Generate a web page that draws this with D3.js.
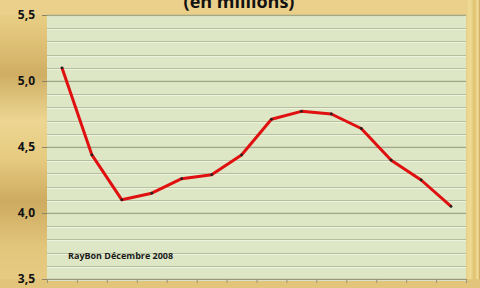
<!DOCTYPE html>
<html>
<head>
<meta charset="utf-8">
<script src="https://cdn.jsdelivr.net/npm/d3@7"></script>
<style>
  html, body { margin: 0; padding: 0; }
  body { width: 480px; height: 288px; overflow: hidden; }
  svg { display: block; }
</style>
</head>
<body>
<svg width="480" height="288"></svg>
<script>
const values = [5.10, 4.44, 4.10, 4.15, 4.26, 4.29, 4.44, 4.71, 4.77, 4.75, 4.64, 4.40, 4.25, 4.05];
const yTicks = [3.5, 4.0, 4.5, 5.0, 5.5];
const yTickLabels = ['3,5', '4,0', '4,5', '5,0', '5,5'];
const minorTicks = d3.range(35, 56).map(d => d / 10);
const titleText = '(en millions)';
const noteText = 'RayBon Décembre 2008';

const W = 480, H = 288;
const plot = { left: 47, right: 466, top: 15, bottom: 279 };

const svg = d3.select('svg');
const defs = svg.append('defs');

// golden background, banded vertically
const bg = defs.append('linearGradient').attr('id', 'bg')
  .attr('x1', 0).attr('y1', 0).attr('x2', 0).attr('y2', 1);
[[0, '#ecd48c'], [0.12, '#e2c57a'], [0.26, '#cfae64'], [0.42, '#edd692'],
 [0.55, '#e6cb80'], [0.7, '#cdab60'], [0.86, '#e2c67c'], [1, '#e8cc84']]
  .forEach(([o, c]) => bg.append('stop').attr('offset', o).attr('stop-color', c));

const rightBg = defs.append('linearGradient').attr('id', 'rbg')
  .attr('x1', 0).attr('y1', 0).attr('x2', 1).attr('y2', 0);
[[0, '#e8cf86'], [0.3, '#f0dc98'], [0.6, '#e0c270'], [0.85, '#f2de9c'], [1, '#c9a65a']]
  .forEach(([o, c]) => rightBg.append('stop').attr('offset', o).attr('stop-color', c));

svg.append('rect').attr('width', W).attr('height', H).attr('fill', 'url(#bg)');
svg.append('rect').attr('x', 0).attr('y', 0).attr('width', W).attr('height', plot.top)
  .attr('fill', '#ead08a');
svg.append('rect').attr('x', plot.right).attr('y', 0).attr('width', W - plot.right).attr('height', H)
  .attr('fill', 'url(#rbg)');
svg.append('rect').attr('x', 0).attr('y', plot.bottom).attr('width', W).attr('height', H - plot.bottom)
  .attr('fill', '#e2c47a');

const x = d3.scaleLinear().domain([0, values.length]).range([plot.left, plot.right]);
const y = d3.scaleLinear().domain([3.5, 5.5]).range([plot.bottom, plot.top]);

// plot area
svg.append('rect')
  .attr('x', plot.left).attr('y', plot.top)
  .attr('width', plot.right - plot.left).attr('height', plot.bottom - plot.top)
  .attr('fill', '#dde7c5');

// gridlines with a soft highlight under each one
const grid = svg.append('g');
grid.selectAll('line.hl')
  .data(minorTicks)
  .join('line')
  .attr('class', 'hl')
  .attr('x1', plot.left).attr('x2', plot.right)
  .attr('y1', d => Math.round(y(d)) + 1.5).attr('y2', d => Math.round(y(d)) + 1.5)
  .attr('stroke', '#eef3de').attr('stroke-width', 1);
grid.selectAll('line.gl')
  .data(minorTicks)
  .join('line')
  .attr('class', 'gl')
  .attr('x1', plot.left).attr('x2', plot.right)
  .attr('y1', d => Math.round(y(d)) + 0.5).attr('y2', d => Math.round(y(d)) + 0.5)
  .attr('stroke', d => (Math.round(d * 10) % 5 === 0 ? '#a2a886' : '#b5bf9d'))
  .attr('stroke-width', d => (Math.round(d * 10) % 5 === 0 ? 1.5 : 1));

// y axis labels
const yAxis = svg.append('g')
  .attr('transform', `translate(${plot.left},0)`)
  .call(d3.axisLeft(y).tickValues(yTicks)
    .tickSize(5)
    .tickFormat((d, i) => yTickLabels[i]));
yAxis.select('.domain').remove();
yAxis.selectAll('.tick line').attr('stroke', '#8c8468');
yAxis.selectAll('.tick text')
  .attr('x', -12)
  .attr('font-family', 'Open Sans, Liberation Sans, sans-serif')
  .attr('font-weight', 'bold')
  .attr('font-size', 12)
  .attr('fill', '#111');

// x axis: tick marks only
const xAxis = svg.append('g')
  .attr('transform', `translate(0,${plot.bottom})`)
  .call(d3.axisBottom(x).tickValues(d3.range(values.length + 1)).tickSize(4).tickFormat(''));
xAxis.select('.domain').attr('stroke', '#9c9478').attr('stroke-width', 1);
xAxis.selectAll('.tick line').attr('stroke', '#9c9478');

// line
const line = d3.line()
  .x((d, i) => x(i + 0.5))
  .y(d => y(d));

svg.append('path')
  .datum(values)
  .attr('d', line)
  .attr('fill', 'none')
  .attr('stroke', '#e01010')
  .attr('stroke-width', 3)
  .attr('stroke-linejoin', 'round');

svg.append('g').selectAll('circle')
  .data(values)
  .join('circle')
  .attr('cx', (d, i) => x(i + 0.5))
  .attr('cy', d => y(d))
  .attr('r', 1.4)
  .attr('fill', '#222');

// title, partly cut off at the top as in the source image
svg.append('text')
  .attr('x', 239).attr('y', 8)
  .attr('text-anchor', 'middle')
  .attr('font-family', 'Open Sans, Liberation Sans, sans-serif')
  .attr('font-weight', 'bold')
  .attr('font-size', 18)
  .attr('fill', '#111')
  .text(titleText);

svg.append('text')
  .attr('x', 68).attr('y', 259)
  .attr('font-family', 'Open Sans, Liberation Sans, sans-serif')
  .attr('font-weight', 'bold')
  .attr('font-size', 9)
  .attr('fill', '#1a1a1a')
  .text(noteText);
</script>
</body>
</html>
